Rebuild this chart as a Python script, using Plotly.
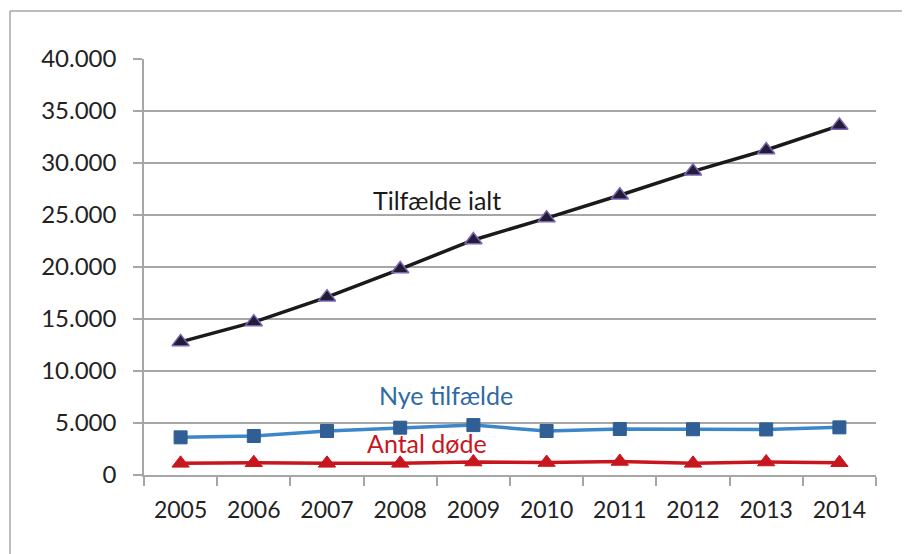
import plotly.graph_objects as go

years = ["2005", "2006", "2007", "2008", "2009", "2010", "2011", "2012", "2013", "2014"]
tilfaelde_ialt = [12800, 14700, 17100, 19800, 22600, 24700, 26900, 29200, 31250, 33600]
nye_tilfaelde = [3620, 3750, 4230, 4550, 4800, 4230, 4420, 4400, 4380, 4580]
antal_doede = [1120, 1180, 1120, 1120, 1250, 1200, 1300, 1120, 1250, 1180]

FONT = "Lato"
GRID = "#a6a6a6"
TXT = "#222222"

fig = go.Figure()
fig.add_trace(go.Scatter(
    x=years, y=tilfaelde_ialt, mode="lines+markers",
    line=dict(color="#1a1a1a", width=3.5),
    marker=dict(symbol="triangle-up", size=15, color="#231c35",
                line=dict(color="#7b63b5", width=1.5)),
    showlegend=False))
fig.add_trace(go.Scatter(
    x=years, y=nye_tilfaelde, mode="lines+markers",
    line=dict(color="#3c87c9", width=3.5),
    marker=dict(symbol="square", size=13, color="#2f5f94",
                line=dict(color="#2f5f94", width=1)),
    showlegend=False))
fig.add_trace(go.Scatter(
    x=years, y=antal_doede, mode="lines+markers",
    line=dict(color="#c8161e", width=3.5),
    marker=dict(symbol="triangle-up", size=15, color="#c8161e",
                line=dict(color="#c8161e", width=1)),
    showlegend=False))

fig.add_annotation(x=3.5, y=26400, text="Tilfælde ialt", showarrow=False,
                   font=dict(family=FONT, size=25, color="#1a1a1a"))
fig.add_annotation(x=3.62, y=7700, text="Nye tilfælde", showarrow=False,
                   font=dict(family=FONT, size=25, color="#2e6aa5"))
fig.add_annotation(x=3.37, y=3100, text="Antal døde", showarrow=False,
                   font=dict(family=FONT, size=25, color="#c8161e"))

# figure is placed at (8, 8) by the page margin; plot area 144..876 x 59..475
L, T, PW, PH = 136, 51, 732, 416
top_y = 1 + (T - 3) / PH
left_x = -(L - 2) / PW
fig.add_shape(type="line", xref="paper", yref="paper",
              x0=left_x, x1=(902 - L) / PW, y0=top_y, y1=top_y,
              line=dict(color=GRID, width=1.5))
fig.add_shape(type="line", xref="paper", yref="paper",
              x0=left_x, x1=left_x, y0=top_y, y1=-(546 - T - PH + 5) / PH,
              line=dict(color=GRID, width=1.5))

fig.update_layout(
    width=902, height=546,
    margin=dict(l=L, r=902 - L - PW, t=T, b=546 - T - PH),
    paper_bgcolor="white", plot_bgcolor="white",
    separators=",.",
    font=dict(family=FONT, size=22, color=TXT),
    xaxis=dict(type="category", range=[-0.5, 9.5],
               showline=True, linecolor=GRID, linewidth=1.5,
               ticks="outside", ticklen=9, tickcolor=GRID, tickwidth=1.5,
               tickson="boundaries", showgrid=False, zeroline=False,
               ticklabelstandoff=14,
               tickfont=dict(family=FONT, size=23, color=TXT)),
    yaxis=dict(range=[0, 40000], tick0=0, dtick=5000, tickformat=",d",
               showline=True, linecolor=GRID, linewidth=1.5,
               ticks="outside", ticklen=9, tickcolor=GRID, tickwidth=1.5,
               showgrid=True, gridcolor=GRID, gridwidth=1.5, zeroline=False,
               ticklabelstandoff=12,
               tickfont=dict(family=FONT, size=24, color=TXT)),
)

fig.write_html("out.html")
